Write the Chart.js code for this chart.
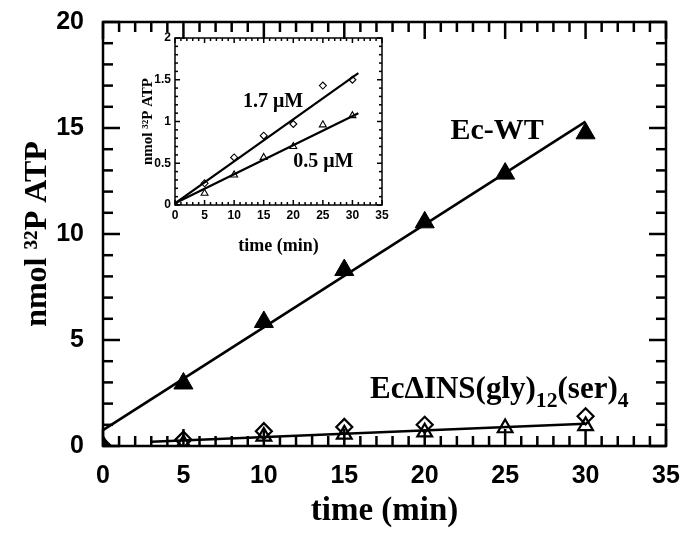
<!DOCTYPE html>
<html>
<head>
<meta charset="utf-8">
<script src="https://cdn.jsdelivr.net/npm/chart.js@4/dist/chart.umd.min.js"></script>
<style>
    body { margin: 0; background: #fff; }
    #wrap { position: relative; width: 682px; height: 533px; }
    #mainChart { position: absolute; left: 0; top: 0; }
    #insetChart { position: absolute; left: 120px; top: 25px; }
</style>
</head>
<body>
<div id="wrap">
    <canvas id="mainChart" width="682" height="533"></canvas>
    <canvas id="insetChart" width="270" height="235"></canvas>
</div>
<script>
// 主图数据 (nmol 32P ATP vs time)
const times = [0, 5, 10, 15, 20, 25, 30];
const wtValues = [0, 2.95, 5.85, 8.3, 10.55, 12.85, 14.75];
const insDiamondTimes = [0, 5, 10, 15, 20, 30];
const insDiamondValues = [0, 0.3, 0.7, 0.9, 1.0, 1.4];
const insTriangleValues = [0, 0.1, 0.45, 0.55, 0.65, 0.85, 0.95];

// 拟合直线 (端点)
const wtFitX = [0, 30];
const wtFitY = [0.75, 15.3];
const insFitX = [3, 30];
const insFitY = [0.2, 1.05];

const xTicks = [0, 5, 10, 15, 20, 25, 30, 35];
const yTicks = [0, 5, 10, 15, 20];

// 插图数据
const insetTimes = [0, 5, 10, 15, 20, 25, 30];
const highValues = [0, 0.26, 0.57, 0.83, 0.97, 1.43, 1.5];
const lowValues = [0, 0.14, 0.36, 0.57, 0.70, 0.96, 1.07];
const highFitX = [0, 31];
const highFitY = [0.02, 1.58];
const lowFitX = [0, 31];
const lowFitY = [0.02, 1.10];
const insetXTicks = [0, 5, 10, 15, 20, 25, 30, 35];
const insetYTicks = [0, 0.5, 1, 1.5, 2];

const SERIF = '"Liberation Serif", "Times New Roman", serif';
const SANS = '"Liberation Sans", Arial, sans-serif';

function pts(xs, ys) {
    return xs.map((v, i) => ({ x: v, y: ys[i] }));
}

// 边框 + 向内刻度
const frameTicks = {
    id: 'frameTicks',
    beforeDatasetsDraw(chart, args, opts) {
        const { ctx, chartArea: a, scales: { x, y } } = chart;
        ctx.save();
        ctx.strokeStyle = '#000';
        ctx.lineWidth = opts.width;
        ctx.lineCap = 'square';
        ctx.strokeRect(a.left, a.top, a.right - a.left, a.bottom - a.top);
        ctx.lineCap = 'butt';
        const seg = (x1, y1, x2, y2) => {
            ctx.beginPath();
            ctx.moveTo(x1, y1);
            ctx.lineTo(x2, y2);
            ctx.stroke();
        };
        let n = Math.round((x.max - x.min) / opts.xMinor);
        let every = Math.round(opts.xMajor / opts.xMinor);
        for (let i = 0; i <= n; i++) {
            const px = x.getPixelForValue(x.min + i * opts.xMinor);
            const len = i % every === 0 ? opts.major : opts.minor;
            seg(px, a.bottom, px, a.bottom - len);
            seg(px, a.top, px, a.top + len);
        }
        n = Math.round((y.max - y.min) / opts.yMinor);
        every = Math.round(opts.yMajor / opts.yMinor);
        for (let i = 0; i <= n; i++) {
            const py = y.getPixelForValue(y.min + i * opts.yMinor);
            const len = i % every === 0 ? opts.major : opts.minor;
            seg(a.left, py, a.left + len, py);
            seg(a.right, py, a.right - len, py);
        }
        ctx.restore();
    }
};

// 图中文字标注 (支持下标)
const annotateText = {
    id: 'annotateText',
    afterDatasetsDraw(chart, args, opts) {
        const { ctx, scales: { x, y } } = chart;
        ctx.save();
        ctx.fillStyle = '#000';
        ctx.textBaseline = 'alphabetic';
        ctx.textAlign = 'left';
        (opts.items || []).forEach(item => {
            let px = x.getPixelForValue(item.x);
            const py = y.getPixelForValue(item.y);
            item.parts.forEach(([text, sub]) => {
                const size = sub ? item.size * 0.7 : item.size;
                ctx.font = `bold ${size}px ${SERIF}`;
                ctx.fillText(text, px, py + (sub ? item.size * 0.27 : 0));
                px += ctx.measureText(text).width;
            });
        });
        ctx.restore();
    }
};

function fixedTicks(values) {
    return scale => { scale.ticks = values.map(v => ({ value: v })); };
}

// 固定轴尺寸, 去掉标签溢出带来的额外留白
function fitX(h) {
    return s => { s.height = h; s.paddingLeft = 0; s.paddingRight = 0; };
}
function fitY(w) {
    return s => { s.width = w; s.paddingTop = 0; s.paddingBottom = 0; };
}

function initMainChart() {
    const ctx = document.getElementById('mainChart').getContext('2d');
    new Chart(ctx, {
        type: 'scatter',
        data: {
            datasets: [
                {
                    data: pts(wtFitX, wtFitY),
                    showLine: true, pointRadius: 0,
                    borderColor: '#000', borderWidth: 2.5, order: 3
                },
                {
                    data: pts(insFitX, insFitY),
                    showLine: true, pointRadius: 0,
                    borderColor: '#000', borderWidth: 2.5, order: 3
                },
                {
                    data: pts(times, wtValues),
                    pointStyle: 'triangle', pointRadius: 11,
                    backgroundColor: '#000', borderColor: '#000', borderWidth: 1, order: 1
                },
                {
                    data: pts(times, insTriangleValues),
                    pointStyle: 'triangle', pointRadius: 8.5,
                    backgroundColor: 'rgba(0,0,0,0)', borderColor: '#000', borderWidth: 2.2, order: 1
                },
                {
                    data: pts(insDiamondTimes, insDiamondValues),
                    pointStyle: 'rectRot', pointRadius: 8,
                    backgroundColor: 'rgba(0,0,0,0)', borderColor: '#000', borderWidth: 2.2, order: 1
                }
            ]
        },
        options: {
            responsive: false,
            animation: false,
            layout: { padding: { top: 22, right: 16, left: 15, bottom: 0 } },
            plugins: {
                legend: { display: false },
                tooltip: { enabled: false },
                frameTicks: { width: 2.5, xMinor: 1, xMajor: 5, yMinor: 1, yMajor: 5, major: 17, minor: 10 },
                annotateText: {
                    items: [
                        { x: 21.6, y: 14.5, size: 30, parts: [['Ec-WT', false]] },
                        { x: 16.6, y: 2.25, size: 31, parts: [['EcΔINS(gly)', false], ['12', true], ['(ser)', false], ['4', true]] }
                    ]
                }
            },
            scales: {
                x: {
                    type: 'linear', min: 0, max: 35,
                    afterBuildTicks: fixedTicks(xTicks),
                    afterFit: fitX(87),
                    grid: { display: false, drawTicks: false },
                    border: { display: false },
                    ticks: { color: '#000', padding: 15, font: { family: SANS, size: 25, weight: 'bold' } },
                    title: {
                        display: true, text: 'time (min)', color: '#000',
                        padding: { top: 0, bottom: 2 },
                        font: { family: SERIF, size: 33, weight: 'bold' }
                    }
                },
                y: {
                    type: 'linear', min: 0, max: 20,
                    afterBuildTicks: fixedTicks(yTicks),
                    afterFit: fitY(88),
                    grid: { display: false, drawTicks: false },
                    border: { display: false },
                    ticks: { color: '#000', padding: 19, font: { family: SANS, size: 25, weight: 'bold' } },
                    title: {
                        display: true, text: 'nmol ³²P ATP', color: '#000',
                        padding: { top: 4, bottom: 4 },
                        font: { family: SERIF, size: 32, weight: 'bold' }
                    }
                }
            }
        },
        plugins: [frameTicks, annotateText]
    });
}

function initInsetChart() {
    const ctx = document.getElementById('insetChart').getContext('2d');
    new Chart(ctx, {
        type: 'scatter',
        data: {
            datasets: [
                {
                    data: pts(highFitX, highFitY),
                    showLine: true, pointRadius: 0,
                    borderColor: '#000', borderWidth: 2.2, order: 3
                },
                {
                    data: pts(lowFitX, lowFitY),
                    showLine: true, pointRadius: 0,
                    borderColor: '#000', borderWidth: 2.2, order: 3
                },
                {
                    data: pts(insetTimes, highValues),
                    pointStyle: 'rectRot', pointRadius: 3.5,
                    backgroundColor: 'rgba(0,0,0,0)', borderColor: '#000', borderWidth: 1.1, order: 1
                },
                {
                    data: pts(insetTimes, lowValues),
                    pointStyle: 'triangle', pointRadius: 4,
                    backgroundColor: 'rgba(0,0,0,0)', borderColor: '#000', borderWidth: 1.1, order: 1
                }
            ]
        },
        options: {
            responsive: false,
            animation: false,
            layout: { padding: { top: 13, right: 8, left: 15, bottom: 0 } },
            plugins: {
                legend: { display: false },
                tooltip: { enabled: false },
                frameTicks: { width: 1.5, xMinor: 1, xMajor: 5, yMinor: 0.1, yMajor: 0.5, major: 5, minor: 3 },
                annotateText: {
                    items: [
                        { x: 11.5, y: 1.17, size: 20, parts: [['1.7 μM', false]] },
                        { x: 20.0, y: 0.455, size: 20, parts: [['0.5 μM', false]] }
                    ]
                }
            },
            scales: {
                x: {
                    type: 'linear', min: 0, max: 35,
                    afterBuildTicks: fixedTicks(insetXTicks),
                    afterFit: fitX(55),
                    grid: { display: false, drawTicks: false },
                    border: { display: false },
                    ticks: { color: '#000', padding: 3, font: { family: SANS, size: 12, weight: 'bold' } },
                    title: {
                        display: true, text: 'time (min)', color: '#000',
                        padding: { top: 0, bottom: 3 },
                        font: { family: SERIF, size: 18, weight: 'bold' }
                    }
                },
                y: {
                    type: 'linear', min: 0, max: 2,
                    afterBuildTicks: fixedTicks(insetYTicks),
                    afterFit: fitY(40),
                    grid: { display: false, drawTicks: false },
                    border: { display: false },
                    ticks: {
                        color: '#000', padding: 4,
                        font: { family: SANS, size: 12, weight: 'bold' },
                        callback: v => String(v)
                    },
                    title: {
                        display: true, text: 'nmol ³²P ATP', color: '#000',
                        padding: { top: 4, bottom: 4 },
                        font: { family: SERIF, size: 15, weight: 'bold' }
                    }
                }
            }
        },
        plugins: [frameTicks, annotateText]
    });
}

initMainChart();
initInsetChart();
</script>
</body>
</html>
